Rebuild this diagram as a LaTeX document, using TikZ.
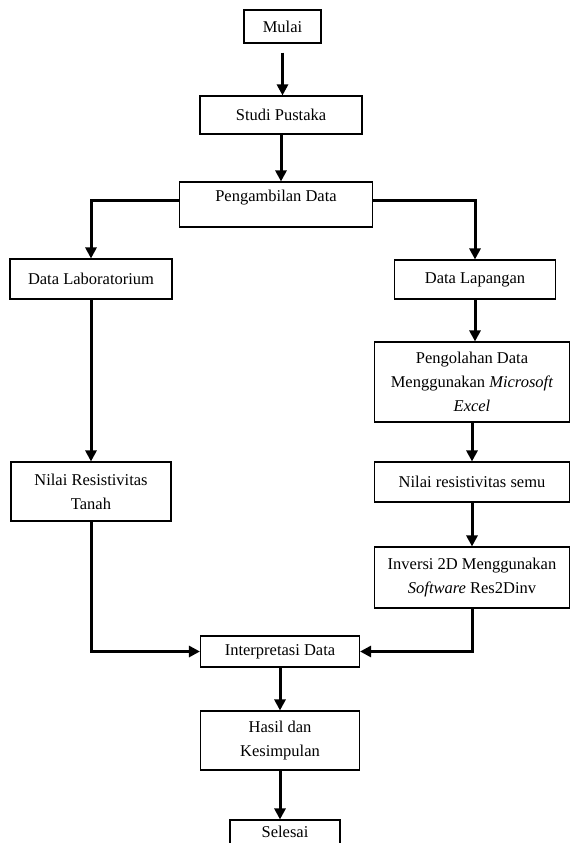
\documentclass[tikz,border=0pt]{standalone}
\usepackage{fontspec}
\setmainfont{Liberation Serif}
\usetikzlibrary{arrows.meta, positioning}

\begin{document}
\begin{tikzpicture}[x=1pt, y=-1pt, every node/.style={
    rectangle, draw, line width=1.1pt, align=center,
    font=\fontsize{16.5}{24}\selectfont, inner sep=2pt},
  flow/.style={line width=3pt, -{Triangle[width=11pt,length=11pt]}}]
  \useasboundingbox (0,0) rectangle (570,843);
  \clip (0,0) rectangle (570,843);
  % main column
  \node (mulai)  [minimum width=77pt,  minimum height=33pt] at (282.5,26.5) {Mulai};
  \node (studi)  [minimum width=162pt, minimum height=38pt] at (281,115) {Studi Pustaka};
  \node (ambil)  [minimum width=193pt, minimum height=45pt, text depth=17pt] at (276,204.5) {Pengambilan Data};
  % left branch
  \node (lab)    [minimum width=162pt, minimum height=40pt] at (91,279) {Data Laboratorium};
  \node (tanah)  [minimum width=160pt, minimum height=59pt] at (91,491.5) {Nilai Resistivitas\\Tanah};
  % right branch
  \node (lap)    [minimum width=161pt, minimum height=39pt] at (475,279.5) {Data Lapangan};
  \node (olah)   [minimum width=195pt, minimum height=80pt] at (472,382) {Pengolahan Data\\Menggunakan \textit{Microsoft}\\\textit{Excel}};
  \node (semu)   [minimum width=195pt, minimum height=40pt] at (472,482) {Nilai resistivitas semu};
  \node (inv)    [minimum width=195pt, minimum height=61pt] at (472,577.5) {Inversi 2D Menggunakan\\\textit{Software} Res2Dinv};
  % bottom
  \node (interp) [minimum width=159pt, minimum height=31pt] at (280,651.5) {Interpretasi Data};
  \node (hasil)  [minimum width=159pt, minimum height=59pt] at (280,740.5) {Hasil dan\\Kesimpulan};
  \node (selesai)[minimum width=110pt, minimum height=40pt, text depth=17pt] at (285,840) {Selesai};
  \draw[flow, shorten <=9pt] (mulai) -- (mulai |- studi.north);
  \foreach \a/\b in {studi/ambil,lab/tanah,lap/olah,olah/semu,
                     semu/inv,interp/hasil,hasil/selesai}
    \draw[flow] (\a) -- (\a |- \b.north);
  \draw[flow] ([yshift=4.5pt]ambil.west) -| (lab.north);
  \draw[flow] ([yshift=4.5pt]ambil.east) -| (lap.north);
  \draw[flow] (tanah) |- (interp.west);
  \draw[flow] (inv) |- (interp.east);
\end{tikzpicture}
\end{document}
